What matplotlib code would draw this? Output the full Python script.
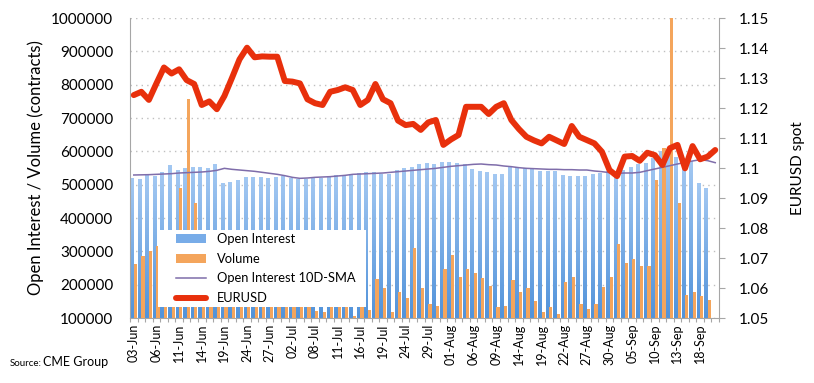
import numpy as np
import pandas as pd
import matplotlib
matplotlib.use("Agg")
import matplotlib.pyplot as plt
from matplotlib.colors import LinearSegmentedColormap
from matplotlib.patches import Patch, Rectangle
from matplotlib.lines import Line2D
from matplotlib.ticker import FixedLocator, FuncFormatter, MultipleLocator

plt.rcParams['font.family'] = ['Lato', 'DejaVu Sans']

# ---------------- data ----------------
all_days = pd.bdate_range("2019-06-03", "2019-09-20")
holidays = [pd.Timestamp("2019-07-04"), pd.Timestamp("2019-09-02")]
days = [d for d in all_days if d not in holidays]
categories = [d.strftime("%d-%b") for d in days]

open_interest = [520, 517, 528, 527, 537, 560, 544, 550, 552, 552,
                 549, 561, 505, 508, 515, 522, 524, 522, 521, 522,
                 525, 521, 518, 518, 519, 521, 524, 528, 528, 530,
                 535, 537, 537, 533, 532, 543, 549, 552, 561, 564,
                 562, 567, 569, 566, 561, 547, 541, 537, 532, 532,
                 552, 552, 549, 547, 542, 542, 542, 529, 527, 527,
                 527, 532, 536, 540, 538, 544, 554, 562, 566, 579,
                 600, 585, 584, 565, 572, 506, 491, np.nan]
open_interest = [v * 1000 for v in open_interest]

volume = [261, 286, 302, 316, 330, 300, 489, 756, 446, 280,
          250, 230, 260, 240, 220, 250, 230, 210, 240, 220,
          200, 210, 190, 180, 122, 117, 200, 190, 180, 107,
          150, 124, 216, 191, 117, 179, 160, 311, 189, 141,
          137, 246, 289, 222, 246, 234, 219, 195, 132, 137,
          214, 177, 190, 152, 117, 134, 111, 209, 224, 142,
          126, 142, 194, 224, 322, 266, 276, 257, 257, 514,
          610, 1050, 446, 169, 179, 167, 153, np.nan]
volume = [v * 1000 for v in volume]

oi_sma = [529, 529.5, 530, 531, 532, 533, 535, 536, 537, 538,
          540, 543, 549, 546, 544, 542, 540, 537, 534, 531,
          527, 522, 519, 520, 522, 523, 524, 526, 528, 531,
          532, 533, 534, 535, 537, 539, 541, 543, 545, 547,
          549, 552, 555, 557, 559, 561, 562, 560, 559, 556,
          554, 551, 549, 548, 547, 546, 546, 545, 545, 544,
          544, 541, 539, 536, 534, 535, 535, 537, 542, 547,
          552, 557, 562, 567, 571, 575, 572, 566]
oi_sma = [v * 1000 for v in oi_sma]

eurusd = [1.1243, 1.1254, 1.1227, 1.1282, 1.1335, 1.1315, 1.1329, 1.1293, 1.1280, 1.1210,
          1.1222, 1.1196, 1.1240, 1.1300, 1.1362, 1.1401, 1.1369, 1.1372, 1.1371, 1.1371,
          1.1290, 1.1288, 1.1282, 1.1229, 1.1216, 1.1210, 1.1254, 1.1260, 1.1269, 1.1260,
          1.1210, 1.1227, 1.1280, 1.1229, 1.1216, 1.1158, 1.1143, 1.1147, 1.1127, 1.1152,
          1.1160, 1.1077, 1.1095, 1.1110, 1.1204, 1.1204, 1.1204, 1.1180, 1.1204, 1.1216,
          1.1160, 1.1130, 1.1104, 1.1092, 1.1082, 1.1104, 1.1092, 1.1080, 1.1140, 1.1104,
          1.1093, 1.1082, 1.1054, 1.0993, 1.0973, 1.1038, 1.1040, 1.1024, 1.1051, 1.1043,
          1.1010, 1.1066, 1.1077, 1.0999, 1.1073, 1.1029, 1.1038, 1.1060]

# ---------------- figure ----------------
W, H = 814, 383
fig = plt.figure(figsize=(W / 100, H / 100), dpi=100)
AX_L, AX_R, AX_T, AX_B = 130, 719, 18, 318
ax = fig.add_axes([AX_L / W, 1 - AX_B / H, (AX_R - AX_L) / W, (AX_B - AX_T) / H])
ax2 = ax.twinx()

n = len(categories)
x = np.arange(n)
blue_dark, blue_light = '#5293DA', '#A3C8F2'
orange = '#F4A55C'
red = '#E8300C'
purple = '#7F6DAA'
grey = '#A6A6A6'

bars = ax.bar(x - 0.24, open_interest, width=0.45, color='none', edgecolor='none', zorder=2)
cmap = LinearSegmentedColormap.from_list('oi', [blue_dark, blue_light])
grad = np.linspace(0, 1, 64).reshape(-1, 1)
for b, v in zip(bars, open_interest):
    if np.isnan(v):
        continue
    x0 = b.get_x()
    im = ax.imshow(grad, extent=[x0, x0 + b.get_width(), 100000, v], origin='lower',
                   cmap=cmap, aspect='auto', zorder=2, interpolation='bilinear')
    im.set_clip_path(b)

ax.bar(x + 0.22, volume, width=0.43, color=orange, edgecolor='none', zorder=3)
ax.plot(x, oi_sma, color=purple, lw=1.1, zorder=4)

ax.set_xlim(-0.5, n - 0.5)
ax.set_ylim(100000, 1000000)
ax.yaxis.set_major_locator(MultipleLocator(100000))
ax.yaxis.set_major_formatter(FuncFormatter(lambda v, p: f"{int(round(v))}"))
ax.grid(axis='y', color='#BFBFBF', linestyle=(0, (1, 3)), linewidth=1.0, zorder=0)
ax.set_axisbelow(True)
ax.tick_params(axis='y', length=0, pad=12, labelsize=11, colors='#000000')

label_idx = list(range(0, n - 1, 3))
ax.xaxis.set_major_locator(FixedLocator(label_idx))
ax.set_xticklabels([categories[i] for i in label_idx], rotation=90, fontsize=9)
ax.xaxis.set_minor_locator(FixedLocator(np.arange(-0.5, n, 1)))
ax.tick_params(axis='x', which='major', length=0, pad=4)
ax.tick_params(axis='x', which='minor', length=3, color=grey, width=0.8)

ax.spines['top'].set_visible(False)
ax2.spines['top'].set_visible(False)
for sp in ['left', 'bottom']:
    ax.spines[sp].set_color(grey)
ax.spines['right'].set_visible(False)
ax2.spines['left'].set_visible(False)
ax2.spines['bottom'].set_visible(False)
ax2.spines['right'].set_color(grey)

ax2.plot(x, eurusd, color=red, lw=4.3, solid_joinstyle='round', solid_capstyle='round', zorder=5)
ax2.set_ylim(1.05, 1.15)
ax2.yaxis.set_major_locator(MultipleLocator(0.01))
ax2.yaxis.set_major_formatter(FuncFormatter(lambda v, p: (f"{v:.2f}".rstrip('0').rstrip('.'))))
ax2.tick_params(axis='y', length=4, color=grey, pad=10, labelsize=11)

ax.set_ylabel("Open Interest / Volume (contracts)", fontsize=12, labelpad=5)
ax2.set_ylabel("EURUSD spot", fontsize=11, labelpad=16)

# legend: white box + frameless legend
def fx(px):
    return (px - AX_L) / (AX_R - AX_L)

def fy(py):
    return (AX_B - py) / (AX_B - AX_T)

box = Rectangle((fx(158), fy(307)), fx(366) - fx(158), fy(230) - fy(307),
                transform=ax2.transAxes, facecolor='white', edgecolor='none', zorder=9)
ax2.add_patch(box)

handles = [Patch(facecolor='#78ACE8', edgecolor='none'),
           Patch(facecolor=orange, edgecolor='none'),
           Line2D([], [], color=purple, lw=1.1),
           Line2D([], [], color=red, lw=4.3, solid_capstyle='round')]
labels = ["Open Interest", "Volume", "Open Interest 10D-SMA", "EURUSD"]
leg = ax2.legend(handles, labels, loc='upper left', bbox_to_anchor=(fx(176), fy(233)),
                 frameon=False, fontsize=9.3, handlelength=2.35, handleheight=0.75,
                 handletextpad=0.85, labelspacing=0.6, borderpad=0, borderaxespad=0)
leg.set_zorder(10)

fig.text(10 / W, 1 - 366 / H, "Source:", fontsize=7, va='baseline', ha='left')
fig.text(43 / W, 1 - 366 / H, "CME Group", fontsize=9, va='baseline', ha='left')

fig.savefig("out.png", dpi=100)
